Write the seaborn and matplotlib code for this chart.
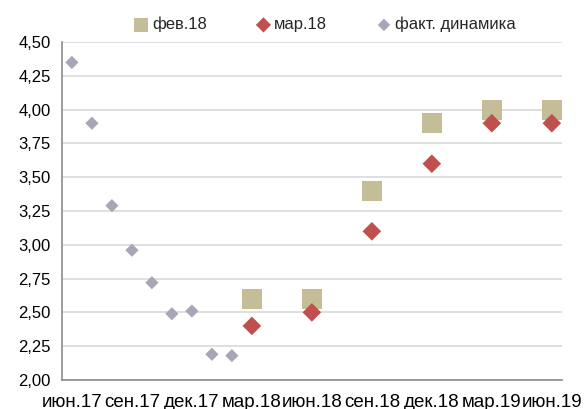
import numpy as np
import pandas as pd
import matplotlib
matplotlib.use("Agg")
import matplotlib.pyplot as plt
from matplotlib.ticker import FixedLocator, FuncFormatter, NullFormatter
import seaborn as sns

# month index from июн.17 (=0); points sit in the middle of each month
fact_months = [0, 1, 2, 3, 4, 5, 6, 7, 8]
fact_values = [4.35, 3.90, 3.29, 2.96, 2.72, 2.49, 2.51, 2.19, 2.18]

fc_months = [9, 12, 15, 18, 21, 24]
feb18_values = [2.60, 2.60, 3.40, 3.90, 4.00, 4.00]
mar18_values = [2.40, 2.50, 3.10, 3.60, 3.90, 3.90]

x_tick_labels = ["июн.17", "сен.17", "дек.17", "мар.18", "июн.18",
                 "сен.18", "дек.18", "мар.19", "июн.19"]

sns.set_style("white")
plt.rcParams['font.family'] = ['Liberation Sans', 'DejaVu Sans']
plt.rcParams['font.size'] = 12

fact = pd.DataFrame({"x": np.array(fact_months) + 0.5, "y": fact_values})
feb = pd.DataFrame({"x": np.array(fc_months) + 0.5, "y": feb18_values})
mar = pd.DataFrame({"x": np.array(fc_months) + 0.5, "y": mar18_values})

fig = plt.figure(figsize=(5.84, 4.09), dpi=100)
ax = fig.add_axes([0.106, 0.071, 0.856, 0.826])

sns.scatterplot(data=feb, x="x", y="y", ax=ax, marker="s", s=200,
                color="#C4BD97", edgecolor="none", label="фев.18", zorder=3)
sns.scatterplot(data=mar, x="x", y="y", ax=ax, marker="D", s=90,
                color="#C0504D", edgecolor="none", label="мар.18", zorder=4)
sns.scatterplot(data=fact, x="x", y="y", ax=ax, marker="D", s=45,
                color="#A6A6B6", edgecolor="none", label="факт. динамика", zorder=4)

ax.set_xlim(0, 25)
ax.set_ylim(2.0, 4.5)
# tick marks at the start of each quarter, labels centred on the month
ax.xaxis.set_major_locator(FixedLocator(list(range(0, 25, 3))))
ax.xaxis.set_major_formatter(NullFormatter())
ax.xaxis.set_minor_locator(FixedLocator([m + 0.5 for m in range(0, 25, 3)]))
ax.set_xticklabels(x_tick_labels, minor=True)
ax.yaxis.set_major_locator(FixedLocator(np.arange(2.0, 4.51, 0.25)))
ax.yaxis.set_major_formatter(FuncFormatter(lambda v, p: f"{v:.2f}".replace(".", ",")))

ax.grid(axis="y", color="#D9D9D9", linewidth=1.2)
ax.set_axisbelow(True)
for side in ["top", "right"]:
    ax.spines[side].set_visible(False)
for side in ["left", "bottom"]:
    ax.spines[side].set_color("#8C8C8C")
    ax.spines[side].set_linewidth(1.2)
ax.tick_params(axis="both", which="major", length=5, width=1.2, color="#8C8C8C",
               labelsize=12, labelcolor="black", pad=3)
ax.tick_params(axis="x", which="minor", length=0, labelsize=13.5,
               labelcolor="black", pad=10)
ax.set_xlabel("")
ax.set_ylabel("")

leg = ax.legend(loc="center", bbox_to_anchor=(0.548, 0.94), bbox_transform=fig.transFigure,
                ncol=3, frameon=False, handletextpad=-0.35, columnspacing=2.4,
                fontsize=12, borderaxespad=0)
for h, s in zip(leg.legend_handles, [100, 60, 40]):
    h.set_sizes([s])

fig.savefig("out.png", dpi=100)
